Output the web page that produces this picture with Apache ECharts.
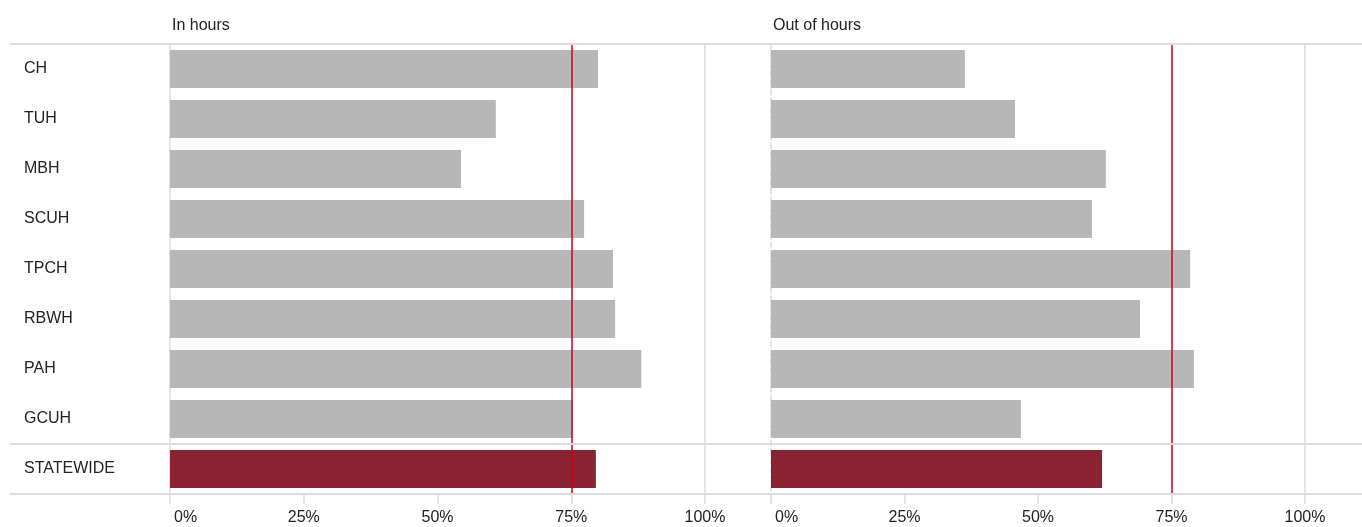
<!DOCTYPE html>
<html>
<head>
<meta charset="utf-8">
<script src="https://cdn.jsdelivr.net/npm/echarts@6/dist/echarts.min.js"></script>
<style>
html,body{margin:0;padding:0;background:#fff;}
#chart{width:1362px;height:527px;}
</style>
</head>
<body>
<div id="chart"></div>
<script>
const categories = ['CH','TUH','MBH','SCUH','TPCH','RBWH','PAH','GCUH','STATEWIDE'];
const inHours = [80.0, 60.9, 54.4, 77.4, 82.8, 83.2, 88.1, 75.3, 79.6];
const outOfHours = [36.3, 45.7, 62.7, 60.1, 78.5, 69.1, 79.2, 46.8, 62.0];
const target = 75;
const panelTitles = ['In hours', 'Out of hours'];
const highlight = 'STATEWIDE';

const FONT = "'Liberation Sans', Arial, sans-serif";
const GRAY = '#b7b7b7';
const MAROON = '#8a2232';
const RED = '#c8001e';
const LINE = '#dcdcdc';

function barData(vals) {
  return vals.map((v, i) => ({
    value: v,
    itemStyle: { color: categories[i] === highlight ? MAROON : GRAY }
  }));
}

function xAxisFor(idx) {
  return {
    gridIndex: idx, type: 'value', min: 0, max: 100, interval: 25,
    axisLine: { show: false },
    axisTick: { show: true, length: 10, lineStyle: { color: LINE, width: 1.5 } },
    splitLine: { show: false },
    axisLabel: {
      formatter: v => (v === 0 ? '{z|0%}' : v + '%'),
      fontSize: 16, color: '#222', fontFamily: FONT,
      margin: 16, alignMinLabel: 'left',
      rich: { z: { fontSize: 16, color: '#222', fontFamily: FONT, padding: [0, 0, 0, 4] } }
    }
  };
}

function yAxisFor(idx, dashed, showLabels) {
  return {
    gridIndex: idx, type: 'category', data: categories, inverse: true,
    axisLine: { show: true, lineStyle: { color: LINE, width: 1.5, type: dashed ? 'dashed' : 'solid' } },
    axisTick: { show: false },
    axisLabel: {
      show: showLabels, align: 'left', margin: 146,
      fontSize: 16, color: '#222', fontFamily: FONT, padding: [3, 0, 0, 0]
    }
  };
}

function barSeries(idx, vals) {
  return {
    type: 'bar', xAxisIndex: idx, yAxisIndex: idx,
    data: barData(vals), barCategoryGap: '24%',
    animation: false,
    markLine: {
      silent: true, symbol: 'none', animation: false,
      label: { show: false },
      data: [
        { xAxis: 100, lineStyle: { color: LINE, width: 1.5, type: 'solid' } },
        { xAxis: target, lineStyle: { color: RED, width: 1.5, type: 'solid' } }
      ]
    }
  };
}

const chart = echarts.init(document.getElementById('chart'), null, { renderer: 'canvas' });
chart.setOption({
  backgroundColor: '#fff',
  animation: false,
  title: [
    { text: panelTitles[0], left: 172, top: 18, padding: 0,
      textStyle: { fontSize: 16, fontWeight: 'normal', color: '#222', fontFamily: FONT } },
    { text: panelTitles[1], left: 773, top: 18, padding: 0,
      textStyle: { fontSize: 16, fontWeight: 'normal', color: '#222', fontFamily: FONT } }
  ],
  grid: [
    { left: 170, top: 44, width: 535, height: 450 },
    { left: 771, top: 44, width: 534, height: 450 },
    { left: 10, top: 44, right: 0, height: 450 }
  ],
  xAxis: [
    xAxisFor(0), xAxisFor(1),
    { gridIndex: 2, type: 'value', min: 0, max: 1, show: false }
  ],
  yAxis: [
    yAxisFor(0, false, true), yAxisFor(1, true, false),
    { gridIndex: 2, type: 'value', min: 0, max: categories.length, inverse: true, show: false }
  ],
  series: [
    barSeries(0, inHours),
    barSeries(1, outOfHours),
    {
      type: 'line', xAxisIndex: 2, yAxisIndex: 2, data: [], z: 1,
      markLine: {
        silent: true, symbol: 'none', animation: false,
        label: { show: false },
        lineStyle: { color: LINE, width: 2, type: 'solid' },
        data: [
          { yAxis: 0 },
          { yAxis: categories.indexOf(highlight) },
          { yAxis: categories.length }
        ]
      }
    }
  ]
});
</script>
</body>
</html>
